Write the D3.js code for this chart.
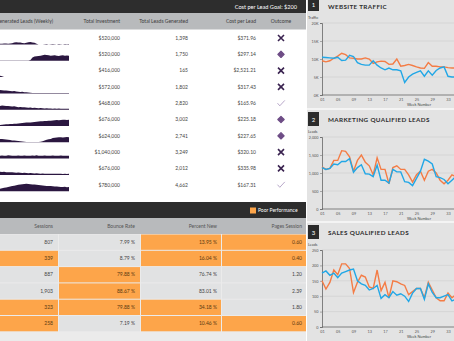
<!DOCTYPE html>
<html>
<head>
<meta charset="utf-8">
<script src="https://cdn.jsdelivr.net/npm/d3@7"></script>
<style>
body { margin: 0; background: #fff; overflow: hidden; }
svg { display: block; font-family: Lato, "Open Sans", sans-serif; }
</style>
</head>
<body>
<div id="dash"></div>
<script>
var width = 454;
var height = 341;

// ---- top table data
var investment = [520000, 520000, 416000, 572000, 468000, 676000, 624000, 1040000, 676000, 780000];
var leadsGenerated = [1398, 1750, 165, 1802, 2820, 3002, 2741, 3249, 2012, 4662];
var costPerLead = [371.96, 297.14, 2521.21, 317.43, 165.96, 225.18, 227.65, 320.10, 335.98, 167.31];
var leadGoal = 200;

var weeklyLeads = [
    [20,18,22,25,20,22,30,45,55,50,45,35,30,40,55,60,50,40,20,0,0,0,8,10,0,8,10,8,0,10,8,0,10,8,10],
    [8,6,8,5,6,8,5,6,8,6,5,8,6,8,10,20,80,100,110,115,120,130,140,135,130,120,125,130,120,115,125,130,120,125,120],
    [30,20,0,0,0,0,0,0,0,0,0,0,0,0,0,0,0,0,0,0,0,0,0,0,0,0,0,0,0,0,0,0,0,0,0],
    [80,75,70,70,60,55,50,55,45,40,35,40,30,25,20,15,12,10,10,8,8,10,8,8,10,8,8,10,8,8,10,8,8,10,8],
    [90,100,95,85,90,80,75,80,70,60,65,55,60,50,45,50,40,45,40,35,40,35,30,35,30,30,25,30,25,30,25,20,25,20,25],
    [25,30,35,40,40,45,50,55,55,60,65,70,75,80,85,85,90,95,100,105,110,110,115,120,125,125,130,135,140,135,140,145,150,140,145],
    [80,75,70,65,60,55,45,40,35,30,25,20,15,10,8,5,5,5,8,10,15,25,40,60,70,80,100,110,115,120,120,115,120,125,120],
    [70,75,65,70,80,75,70,65,70,75,65,70,75,70,65,70,75,70,80,70,65,70,75,70,65,70,75,70,65,70,75,70,65,70,68],
    [75,70,72,65,60,65,60,55,50,55,50,45,50,45,40,45,40,35,40,35,30,35,30,30,25,30,25,25,30,25,25,20,25,20,25],
    [60,70,80,90,100,110,120,130,140,150,160,165,170,175,170,165,160,155,150,145,140,135,130,125,120,120,115,110,110,105,100,100,105,95,100]
];

var topHeaders = ["Generated Leads (Weekly)", "Total Investment", "Total Leads Generated", "Cost per Lead", "Outcome"];

// ---- bottom table data
var bottomHeaders = ["Sessions", "Bounce Rate", "Percent New", "Pages Session"];
var sessions = [807, 339, 887, 1903, 323, 258];
var bounceRate = [7.99, 8.79, 79.88, 88.67, 79.88, 7.19];
var percentNew = [13.95, 16.04, 76.74, 83.01, 34.18, 10.46];
var pagesSession = [0.60, 0.40, 1.20, 2.39, 1.80, 0.60];

// ---- weekly charts data (weeks 1..35)
var weeks = d3.range(1, 36);
var weekTicks = [1, 5, 9, 13, 17, 21, 25, 29, 33];
var trafficOrange = [9500,9200,9500,10200,10800,11600,11200,10300,10200,10000,10000,10300,10000,8800,9200,9400,9300,8500,8600,10000,8000,8200,8500,8200,7800,7500,7400,9000,8000,8000,7800,7800,7600,7500,7500];
var trafficBlue = [10500,10400,10300,10200,10500,9600,9700,11000,10700,9000,8500,8300,8300,9500,8300,7500,7000,7500,7000,7000,6700,3500,5000,5800,6300,6700,5200,6700,5500,6800,7500,7800,5200,5000,5000];
var mqlOrange = [1170,1100,1130,1350,1350,1620,1600,1450,1050,1350,1500,1300,1200,950,1420,1100,1100,700,1150,1200,1100,1100,950,750,950,1050,800,1050,1100,1000,800,700,800,950,900];
var mqlBlue = [1150,1100,1130,1250,1230,1320,1320,1400,1020,1150,1230,980,970,900,1220,800,800,720,1100,1030,1030,760,740,650,850,1050,1380,1330,1250,900,870,820,700,800,900];
var sqlOrange = [150,123,145,185,170,205,205,190,112,145,168,162,130,125,185,118,145,95,150,147,140,135,105,115,125,125,95,145,120,95,85,85,110,95,105];
var sqlBlue = [175,182,168,175,160,175,180,185,188,150,140,135,120,125,135,93,105,95,115,103,108,100,83,110,125,125,90,140,112,95,95,100,105,85,90];

var orange = "#f47c45", blue = "#22a7e6";
var poorColor = "#fda54a";

var svg = d3.select("#dash").append("svg")
    .attr("width", width)
    .attr("height", height);

// ================= LEFT: top table
var leftW = 306;
svg.append("rect").attr("x", 0).attr("y", 0).attr("width", leftW).attr("height", 13).attr("fill", "#2d2d2d");
svg.append("text").attr("x", 297).attr("y", 8.6).attr("text-anchor", "end")
    .style("font-size", "5.6px").attr("fill", "#fff").text("Cost per Lead Goal: $" + leadGoal);
svg.append("rect").attr("x", 0).attr("y", 13).attr("width", leftW).attr("height", 16.5).attr("fill", "#b8babc");

var colRight = [53, 120, 188, 256];
topHeaders.forEach(function(h, i) {
    svg.append("text")
        .attr("x", i < 4 ? colRight[i] : 281)
        .attr("y", 23)
        .attr("text-anchor", i < 4 ? "end" : "middle")
        .style("font-size", "5px").attr("fill", "#3c3c3c").text(h);
});

var rowY = d3.scaleLinear().domain([0, 1]).range([38, 54.3]);
var fmtMoney = d3.format("$,.0f");
var fmtCost = d3.format("$,.2f");
var fmtInt = d3.format(",");

var sx = d3.scaleLinear().domain([0, 34]).range([0, 69]);
var sy = d3.scaleLinear().domain([0, 200]).range([0, 8.5]);

weeklyLeads.forEach(function(vals, i) {
    var cy = rowY(i);
    var base = cy + 6.5;
    var area = d3.area()
        .x(function(d, j) { return sx(j); })
        .y0(base)
        .y1(function(d) { return base - sy(d); })
        .curve(d3.curveLinear);
    svg.append("path").datum(vals).attr("d", area).attr("fill", "#2b1740");
});

investment.forEach(function(v, i) {
    var cy = rowY(i) + 1.8;
    svg.append("text").attr("x", colRight[1]).attr("y", cy).attr("text-anchor", "end")
        .style("font-size", "5px").attr("fill", "#444").text(fmtMoney(v));
    svg.append("text").attr("x", colRight[2]).attr("y", cy).attr("text-anchor", "end")
        .style("font-size", "5px").attr("fill", "#444").text(fmtInt(leadsGenerated[i]));
    svg.append("text").attr("x", colRight[3]).attr("y", cy).attr("text-anchor", "end")
        .style("font-size", "5px").attr("fill", "#444").text(fmtCost(costPerLead[i]));

    // outcome icon
    var g = svg.append("g").attr("transform", "translate(281," + rowY(i) + ")");
    var c = costPerLead[i];
    if (c < leadGoal) {
        g.append("path").attr("d", "M-3.5,0 L-1.2,2.6 L3.8,-2.8")
            .attr("fill", "none").attr("stroke", "#a692bb").attr("stroke-width", 0.8);
    } else if (c < leadGoal * 1.5) {
        g.append("path").attr("d", d3.symbol().type(d3.symbolSquare).size(20))
            .attr("transform", "rotate(45)").attr("fill", "#6e4d86")
            .attr("stroke", "#6e4d86").attr("stroke-width", 1.2).attr("stroke-linejoin", "round");
    } else {
        g.append("path").attr("d", "M-3,-3 L3,3 M3,-3 L-3,3")
            .attr("stroke", "#3a2350").attr("stroke-width", 1.6);
    }
});

// ================= LEFT: bottom table
svg.append("rect").attr("x", 0).attr("y", 202).attr("width", leftW).attr("height", 16).attr("fill", "#2d2d2d");
svg.append("rect").attr("x", 250).attr("y", 207.5).attr("width", 6).attr("height", 6).attr("fill", poorColor);
svg.append("text").attr("x", 258).attr("y", 212.4).style("font-size", "5px").attr("fill", "#fff").text("Poor Performance");
svg.append("rect").attr("x", 0).attr("y", 218).attr("width", leftW).attr("height", 16).attr("fill", "#b8babc");
svg.append("rect").attr("x", 0).attr("y", 234).attr("width", leftW).attr("height", height - 234).attr("fill", "#ebebeb");

var colEdges = [[-20, 58], [59, 140], [141, 221], [222, 306]];
var textRight = [53, 135, 217, 302];
bottomHeaders.forEach(function(h, i) {
    svg.append("text").attr("x", textRight[i]).attr("y", 227.5).attr("text-anchor", "end")
        .style("font-size", "5px").attr("fill", "#555").text(h);
});

var bRowY = d3.scaleLinear().domain([0, 1]).range([234, 250.3]);
var bottomCols = [
    { vals: sessions, fmt: fmtInt, poor: function(v) { return v < 500; } },
    { vals: bounceRate, fmt: function(v) { return v.toFixed(2) + " %"; }, poor: function(v) { return v > 50; } },
    { vals: percentNew, fmt: function(v) { return v.toFixed(2) + " %"; }, poor: function(v) { return v < 50; } },
    { vals: pagesSession, fmt: function(v) { return v.toFixed(2); }, poor: function(v) { return v < 1; } }
];
bottomCols.forEach(function(col, ci) {
    col.vals.forEach(function(v, ri) {
        var y0 = bRowY(ri);
        var bad = col.poor(v);
        svg.append("rect")
            .attr("x", colEdges[ci][0]).attr("y", y0 + 0.5)
            .attr("width", colEdges[ci][1] - colEdges[ci][0]).attr("height", 15.3)
            .attr("fill", bad ? poorColor : "#e1e2e3");
        svg.append("text").attr("x", textRight[ci]).attr("y", y0 + 9.8).attr("text-anchor", "end")
            .style("font-size", "5px").attr("fill", bad ? "#5b3a12" : "#444").text(col.fmt(v));
    });
});

// ================= RIGHT: weekly charts
svg.append("rect").attr("x", 307).attr("y", 0).attr("width", width - 307).attr("height", height).attr("fill", "#f4f4f4");

var x = d3.scaleLinear().domain([1, 33]).range([322, 448]);

var panels = [
    { num: "1", title: "WEBSITE TRAFFIC", ylab: "Traffic", top: -4, bottom: 108, y0: 95, y1: 23, max: 20000, step: 5000,
      fmt: function(d) { return (d / 1000) + "K"; }, a: trafficOrange, b: trafficBlue, boxY: -3, titleY: 8.5 },
    { num: "2", title: "MARKETING QUALIFIED LEADS", ylab: "Leads", top: 110, bottom: 221, y0: 209, y1: 137, max: 2000, step: 500,
      fmt: d3.format(","), a: mqlOrange, b: mqlBlue, boxY: 112, titleY: 121.5 },
    { num: "3", title: "SALES QUALIFIED LEADS", ylab: "Leads", top: 223, bottom: 341, y0: 327, y1: 250, max: 250, step: 50,
      fmt: d3.format(","), a: sqlOrange, b: sqlBlue, boxY: 225, titleY: 234.5 }
];

panels.forEach(function(p) {
    svg.append("rect").attr("x", 307).attr("y", p.top).attr("width", width - 307)
        .attr("height", p.bottom - p.top).attr("fill", "#e3e3e3");
    svg.append("rect").attr("x", 308).attr("y", p.boxY).attr("width", 11).attr("height", 14).attr("fill", "#2b2b2b");
    svg.append("text").attr("x", 313.5).attr("y", p.boxY + 9.5).attr("text-anchor", "middle")
        .style("font-size", "6px").attr("fill", "#fff").text(p.num);
    svg.append("text").attr("x", 328).attr("y", p.titleY)
        .style("font-size", "6.3px").style("font-weight", "bold").style("letter-spacing", "0.35px")
        .attr("fill", "#2e2e2e").text(p.title);
    svg.append("text").attr("x", 308).attr("y", p.y1 - 4.5)
        .style("font-size", "3.8px").attr("fill", "#444").text(p.ylab);

    var y = d3.scaleLinear().domain([0, p.max]).range([p.y0, p.y1]);
    var ticks = d3.range(0, p.max + 1, p.step);

    // gridlines
    svg.append("g").selectAll("line").data(ticks.slice(1)).enter().append("line")
        .attr("x1", 322).attr("x2", width)
        .attr("y1", function(d) { return y(d); }).attr("y2", function(d) { return y(d); })
        .attr("stroke", "#cdcdcd").attr("stroke-width", 0.6);

    var yAxis = svg.append("g").attr("transform", "translate(322,0)")
        .call(d3.axisLeft(y).tickValues(ticks).tickFormat(p.fmt).tickSize(2).tickPadding(1.5));
    var xAxis = svg.append("g").attr("transform", "translate(0," + p.y0 + ")")
        .call(d3.axisBottom(x).tickValues(weekTicks).tickFormat(d3.format("02d")).tickSize(0).tickPadding(3));
    xAxis.select(".domain").attr("d", "M322,0H" + width);
    [yAxis, xAxis].forEach(function(ax) {
        ax.selectAll("text").style("font-size", "3.8px").attr("fill", "#555").style("font-family", "Lato, sans-serif");
        ax.selectAll("line").attr("stroke", "#666").attr("stroke-width", 0.5);
        ax.select(".domain").attr("stroke", "#555").attr("stroke-width", 0.7);
    });

    svg.append("text").attr("x", 419).attr("y", p.y0 + 11)
        .attr("text-anchor", "middle").style("font-size", "3.8px").attr("fill", "#444").text("Week Number");

    var line = d3.line()
        .x(function(d, i) { return x(weeks[i]); })
        .y(function(d) { return y(d); });
    svg.append("path").datum(p.a).attr("d", line).attr("fill", "none").attr("stroke", orange).attr("stroke-width", 1.4);
    svg.append("path").datum(p.b).attr("d", line).attr("fill", "none").attr("stroke", blue).attr("stroke-width", 1.4);
});
</script>
</body>
</html>
